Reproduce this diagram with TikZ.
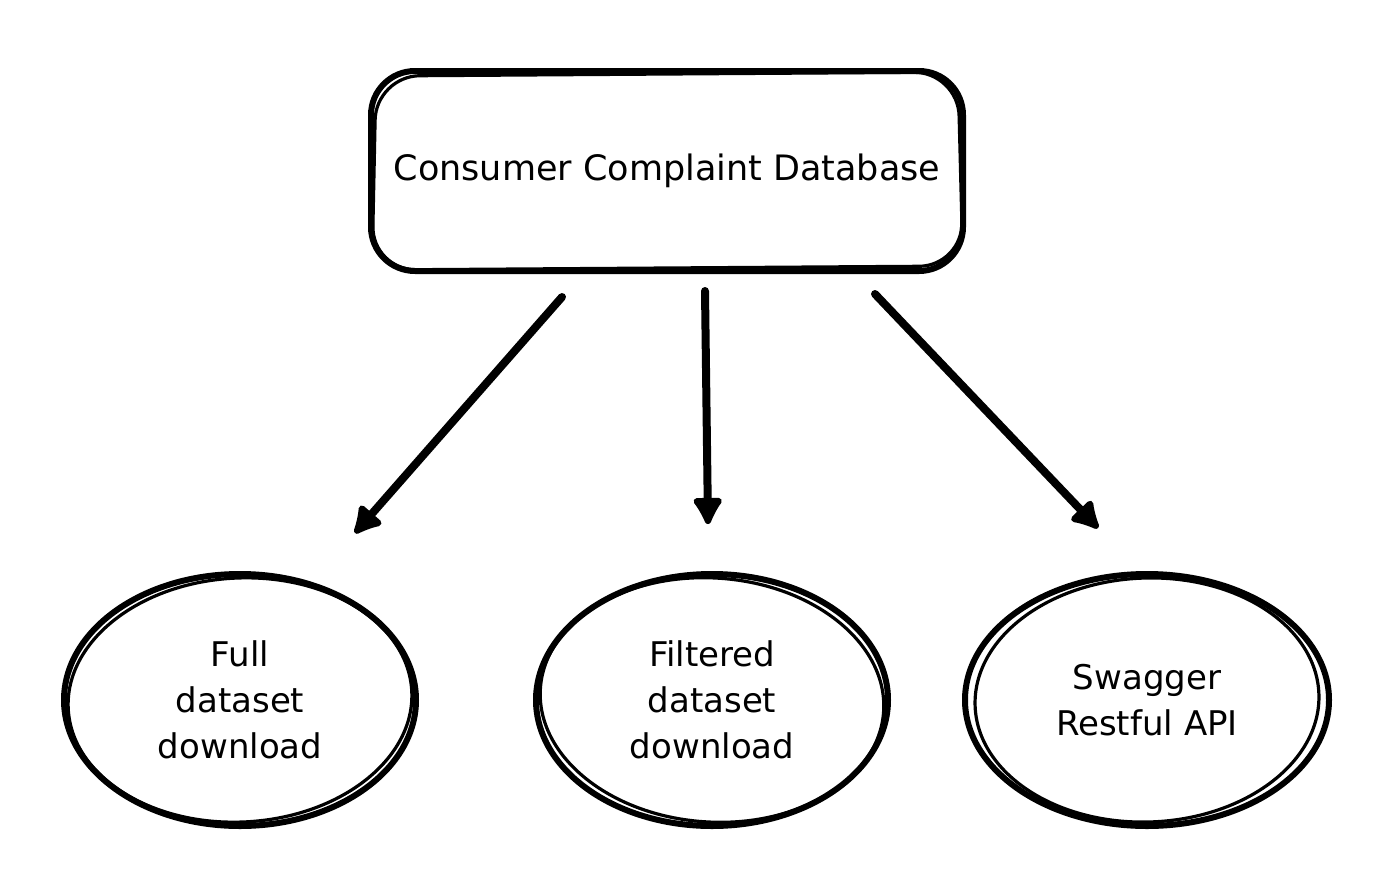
\documentclass[tikz,border=0pt]{standalone}
\usepackage{fontspec}
\setmainfont{DejaVu Sans}
\usetikzlibrary{shapes.geometric,arrows.meta,calc}
\tikzset{
  sketch/.style={line width=3pt,line cap=round,line join=round},
  dbbox/.style={sketch,draw,rounded corners=22pt,minimum width=296pt,minimum height=100pt,font=\fontsize{17.5}{21}\selectfont},
  outlet/.style={sketch,draw,ellipse,inner sep=0pt,minimum width=176pt,minimum height=126pt,align=center,font=\fontsize{17}{23}\selectfont},
  feed/.style={line width=4pt,line cap=round,-{Latex[length=16pt,width=18pt,round]}}
}
\begin{document}
\begin{tikzpicture}[x=0.5pt,y=-0.5pt]
\useasboundingbox (0,0) rectangle (1388,874);
%source
\node[dbbox] (db) at (667,171) {Consumer Complaint Database};
\draw[line width=1.6pt,rounded corners=22pt] (376,76) -- (958,72) -- (963,266) -- (372,270) -- cycle;
%outlets
\node[outlet] (full) at (240,700) {Full\\dataset\\download};
\node[outlet] (filt) at (712,700) {Filtered\\dataset\\download};
\node[outlet,minimum width=182pt] (api) at (1147,700) {Swagger\\Restful API};
\foreach \o/\r in {full/3,filt/-4,api/2}
  \draw[line width=1.6pt] (\o.center) ellipse[x radius=172,y radius=122,rotate=\r];
%arrows
\draw[feed] ($(db.south)+(-105,23)$) -- ($(full.north)+(115,-38)$);
\draw[feed] ($(db.south)+(38,17)$) -- ($(filt.north)+(-4,-47)$);
\draw[feed] ($(db.south)+(208,20)$) -- ($(api.north)+(-49,-43)$);
\end{tikzpicture}
\end{document}
